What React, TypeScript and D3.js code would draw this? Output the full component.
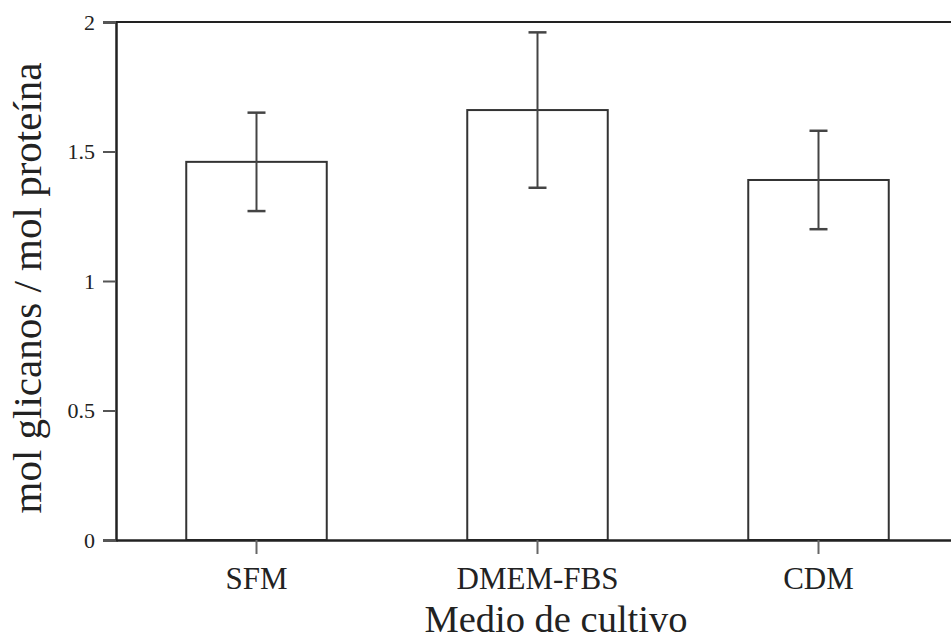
import React, { useEffect, useRef } from 'react';
import * as d3 from 'd3';

const categories = ['SFM', 'DMEM-FBS', 'CDM'];
const means = [1.46, 1.66, 1.39];
const errors = [0.19, 0.3, 0.19];
const yTicks = [0, 0.5, 1, 1.5, 2];

const width = 951;
const height = 642;

export default function App() {
  const svgRef = useRef<SVGSVGElement>(null);

  useEffect(() => {
    if (!svgRef.current) return;
    const svg = d3.select(svgRef.current);
    svg.selectAll('*').remove();

    const margin = { top: 22, right: -8, bottom: 102, left: 116 };
    const innerWidth = width - margin.left - margin.right;
    const innerHeight = height - margin.top - margin.bottom;
    const font = '"Liberation Serif", "DejaVu Serif", serif';
    const ink = '#222';

    const g = svg.append('g').attr('transform', `translate(${margin.left},${margin.top})`);

    const x = d3
      .scaleBand()
      .domain(categories)
      .range([0, innerWidth])
      .paddingInner(0.5)
      .paddingOuter(0.25);

    const y = d3.scaleLinear().domain([0, 2]).range([innerHeight, 0]);

    // top frame line
    g.append('line')
      .attr('x1', 0)
      .attr('x2', innerWidth + 10)
      .attr('y1', y(2))
      .attr('y2', y(2))
      .attr('stroke', ink)
      .attr('stroke-width', 2);

    // bars
    g.selectAll('.bar')
      .data(categories)
      .enter()
      .append('rect')
      .attr('class', 'bar')
      .attr('x', d => x(d)!)
      .attr('width', x.bandwidth())
      .attr('y', (_, i) => y(means[i]))
      .attr('height', (_, i) => innerHeight - y(means[i]))
      .attr('fill', '#fff')
      .attr('stroke', '#333')
      .attr('stroke-width', 2);

    // error bars
    const err = g.selectAll('.err').data(categories).enter().append('g').attr('class', 'err');
    const cx = (d: string) => x(d)! + x.bandwidth() / 2;
    err.append('line')
      .attr('x1', cx)
      .attr('x2', cx)
      .attr('y1', (_, i) => y(means[i] + errors[i]))
      .attr('y2', (_, i) => y(means[i] - errors[i]))
      .attr('stroke', '#444')
      .attr('stroke-width', 2);
    [1, -1].forEach(s => {
      err.append('line')
        .attr('x1', d => cx(d) - 9)
        .attr('x2', d => cx(d) + 9)
        .attr('y1', (_, i) => y(means[i] + s * errors[i]))
        .attr('y2', (_, i) => y(means[i] + s * errors[i]))
        .attr('stroke', '#444')
        .attr('stroke-width', 2.5);
    });

    // y axis
    const yAxis = d3.axisLeft(y).tickValues(yTicks).tickSize(13).tickPadding(8).tickFormat(d3.format('~g'));
    const ya = g.append('g').call(yAxis);
    ya.select('.domain').attr('stroke', ink).attr('stroke-width', 2.5);
    ya.selectAll('.tick line').attr('stroke', '#555').attr('stroke-width', 2);
    ya.selectAll('.tick text')
      .style('font-family', font)
      .style('font-size', '22px')
      .attr('fill', ink);

    // x axis
    const xAxis = d3.axisBottom(x).tickSize(14).tickPadding(13).tickSizeOuter(0);
    const xa = g.append('g').attr('transform', `translate(0,${innerHeight})`).call(xAxis);
    xa.select('.domain').attr('stroke', ink).attr('stroke-width', 2.5);
    xa.selectAll('.tick line').attr('stroke', '#666').attr('stroke-width', 2);
    xa.selectAll('.tick text')
      .style('font-family', font)
      .style('font-size', '31px')
      .attr('fill', ink);

    // axis titles
    svg.append('text')
      .attr('x', 556)
      .attr('y', 632)
      .attr('text-anchor', 'middle')
      .style('font-family', font)
      .style('font-size', '38.5px')
      .attr('fill', ink)
      .text('Medio de cultivo');

    svg.append('text')
      .attr('transform', `translate(41,288) rotate(-90)`)
      .attr('text-anchor', 'middle')
      .style('font-family', font)
      .style('font-size', '41px')
      .attr('fill', ink)
      .text('mol glicanos / mol proteína');
  }, []);

  return (
    <svg
      ref={svgRef}
      width={width}
      height={height}
      style={{ position: 'absolute', left: 0, top: 0, background: '#fff' }}
    />
  );
}
